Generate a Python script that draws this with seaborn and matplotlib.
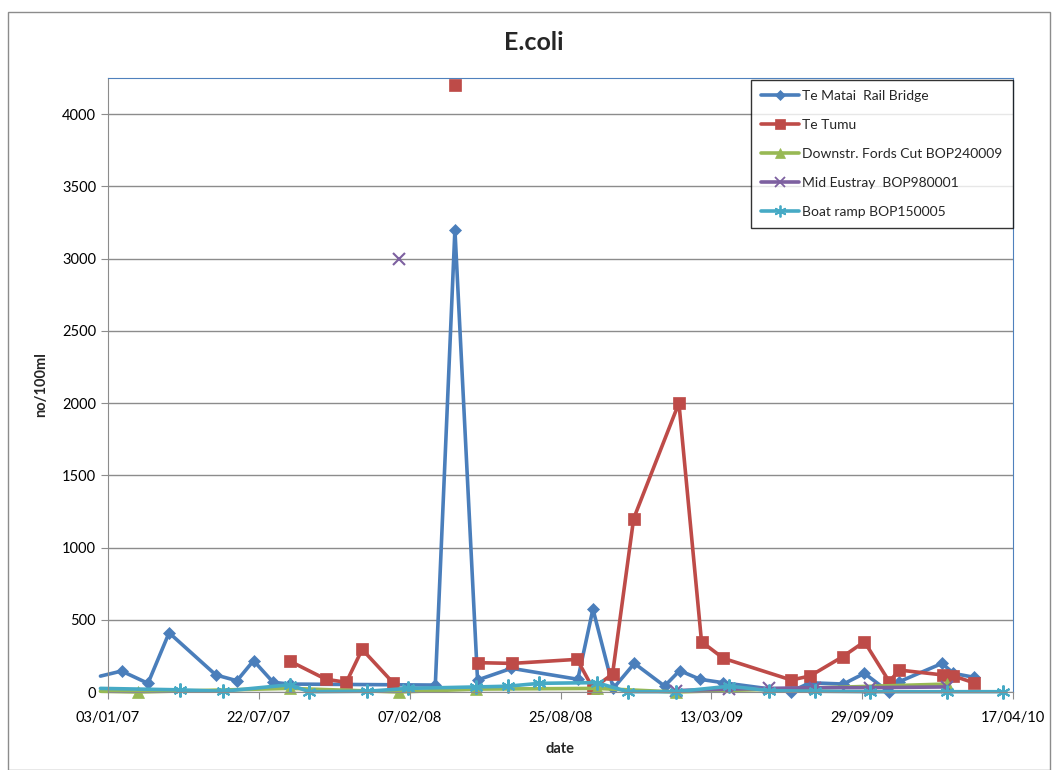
import pandas as pd
import numpy as np
import seaborn as sns
import matplotlib.pyplot as plt
import matplotlib.dates as mdates
from matplotlib.lines import Line2D
from matplotlib.patches import Rectangle

# data (None = gap in the series)
matai_dates = ["2006-12-24", "2007-01-21", "2007-02-25", "2007-03-25", "2007-05-26", "2007-06-23",
               "2007-07-15", "2007-08-10", "2007-09-01", "2008-03-12", "2008-04-07", "2008-05-07",
               "2008-06-21", "2008-09-17", "2008-10-07", "2008-11-03", "2008-12-01", "2009-01-10",
               "2009-01-30", "2009-02-26", "2009-03-29", "2009-06-26", "2009-07-22", "2009-09-04",
               "2009-10-02", "2009-11-03", "2009-11-17", "2010-01-13", "2010-01-28", "2010-02-24"]
matai_vals = [110, 145, 60, 410, 118, 78, 217, 67, 55, 48, 3200, 83,
              164, 88, 574, 25, 198, 41, 148, 88, 64, 2, 64, 55,
              129, 2, 71, 198, 129, 102]

tumu_dates = ["2007-09-01", "2007-10-19", "2007-11-15", "2007-12-06", "2008-01-16", "2008-02-20",
              "2008-04-07", "2008-04-20", "2008-05-08", "2008-06-22", "2008-09-16", "2008-10-07",
              "2008-11-02", "2008-11-30", "2009-01-29", "2009-02-28", "2009-03-29", "2009-06-27",
              "2009-07-22", "2009-09-03", "2009-10-02", "2009-11-04", "2009-11-17", "2010-01-14",
              "2010-01-28", "2010-02-24"]
tumu_vals = [214, 88, 67, 295, 64, None, 4200, None, 203, 198, 226, 25,
             124, 1200, 2000, 348, 233, 83, 111, 244, 348, 71, 152, 118,
             111, 64]

fords_dates = ["2006-12-24", "2007-02-12", "2007-09-01", "2008-01-24", "2008-05-05", "2008-10-12",
               "2009-01-25", "2010-01-19"]
fords_vals = [5, 0, 25, 0, 20, 25, 0, 55]

eustray_dates = ["2008-01-24", "2008-06-01", "2009-01-25", "2009-04-06", "2009-05-29", "2009-07-29",
                 "2009-10-09", "2010-01-19"]
eustray_vals = [3000, None, 10, 20, 25, 30, 30, 35]

boat_dates = ["2006-12-24", "2007-04-08", "2007-06-04", "2007-09-01", "2007-09-27", "2007-12-12",
              "2008-02-05", "2008-05-05", "2008-06-16", "2008-07-28", "2008-10-12", "2008-11-22",
              "2009-01-25", "2009-04-06", "2009-05-29", "2009-07-29", "2009-10-09", "2010-01-19",
              "2010-04-04"]
boat_vals = [25, 15, 5, 50, 2, 5, 25, 35, 40, 60, 65, 2,
             2, 40, 10, 5, 2, 2, 2]

sites = ["Te Matai  Rail Bridge", "Te Tumu", "Downstr. Fords Cut BOP240009",
         "Mid Eustray  BOP980001", "Boat ramp BOP150005"]
series = [(matai_dates, matai_vals), (tumu_dates, tumu_vals), (fords_dates, fords_vals),
          (eustray_dates, eustray_vals), (boat_dates, boat_vals)]
colors = ["#4a7ebb", "#be4b48", "#98b954", "#7d60a0", "#46aac5"]
markers = ["D", "s", "^", "x", (6, 2, 0)]
msizes = [6.5, 8, 8, 8, 10]

frames = []
for site, (d, v) in zip(sites, series):
    s = pd.DataFrame({"date": pd.to_datetime(d), "value": v, "site": site})
    s["value"] = pd.to_numeric(s["value"])
    s["seg"] = s["value"].isna().cumsum()
    frames.append(s.dropna())
df = pd.concat(frames, ignore_index=True)

sns.set_style("white")
plt.rcParams["font.family"] = ["Lato", "DejaVu Sans"]

fig = plt.figure(figsize=(10.55, 7.7), dpi=100)
ax = fig.add_axes([108 / 1055, 1 - 692 / 770, (1013 - 108) / 1055, (692 - 78) / 770])

# outer chart border
fig.patches.append(Rectangle((8 / 1055, 0), 1042 / 1055, 1 - 12 / 770, transform=fig.transFigure,
                             fill=False, edgecolor="#8c8c8c", lw=1))

start = pd.Timestamp("2007-01-03")
start_num = mdates.date2num(start)

for site, c, m, ms in zip(sites, colors, markers, msizes):
    sub = df[df["site"] == site]
    n_before = len(ax.lines)
    sns.lineplot(data=sub, x="date", y="value", units="seg", estimator=None, sort=False,
                 color=c, marker=m, markersize=ms, markeredgecolor=c, markerfacecolor=c,
                 markeredgewidth=1.5 if m in ("x", (6, 2, 0)) else 0.5,
                 lw=2.6, legend=False, clip_on=False, ax=ax)
    # the leading point sits just left of the axis: line only, no marker
    for line in ax.lines[n_before:]:
        x0 = line.get_xdata()[0]
        if not isinstance(x0, (float, np.floating, int, np.integer)):
            x0 = mdates.date2num(pd.Timestamp(x0))
        if x0 < start_num:
            line.set_markevery(slice(1, None))

ax.set_xlim(start, pd.Timestamp("2010-04-17"))
ax.set_xticks([start + pd.Timedelta(days=200 * i) for i in range(7)])
ax.xaxis.set_major_formatter(mdates.DateFormatter("%d/%m/%y"))
ax.set_ylim(0, 4250)
ax.set_yticks(np.arange(0, 4001, 500))
ax.yaxis.grid(True, color="#8c8c8c", lw=1)
ax.set_axisbelow(True)

for side in ["left", "bottom"]:
    ax.spines[side].set_color("#8c8c8c")
for side in ["top", "right"]:
    ax.spines[side].set_color("#4f81bd")
ax.tick_params(axis="both", direction="out", length=5, color="#8c8c8c", labelsize=10.5,
               labelcolor="black", bottom=True, left=True)
ax.tick_params(axis="x", pad=9)

ax.set_xlabel("date", fontsize=10.5, fontweight="bold", labelpad=12)
ax.set_ylabel("no/100ml", fontsize=10.5, fontweight="bold", labelpad=10)
fig.text(534 / 1055, 1 - 43 / 770, "E.coli", ha="center", va="center", fontsize=18, fontweight="bold")

handles = [Line2D([], [], color=c, marker=m, markersize=ms * 0.85, markeredgecolor=c,
                  markeredgewidth=1.3 if m in ("x", (6, 2, 0)) else 0.5, lw=2.6)
           for c, m, ms in zip(colors, markers, msizes)]
leg = ax.legend(handles, sites, loc="upper right", bbox_to_anchor=(1, 0.997), borderaxespad=0,
                fancybox=False, frameon=True, fontsize=10, labelspacing=1.22,
                handlelength=2.7, handletextpad=0.25, borderpad=0.75)
leg.get_frame().set_edgecolor("black")
leg.get_frame().set_linewidth(1)

fig.savefig("out.png", dpi=100)
